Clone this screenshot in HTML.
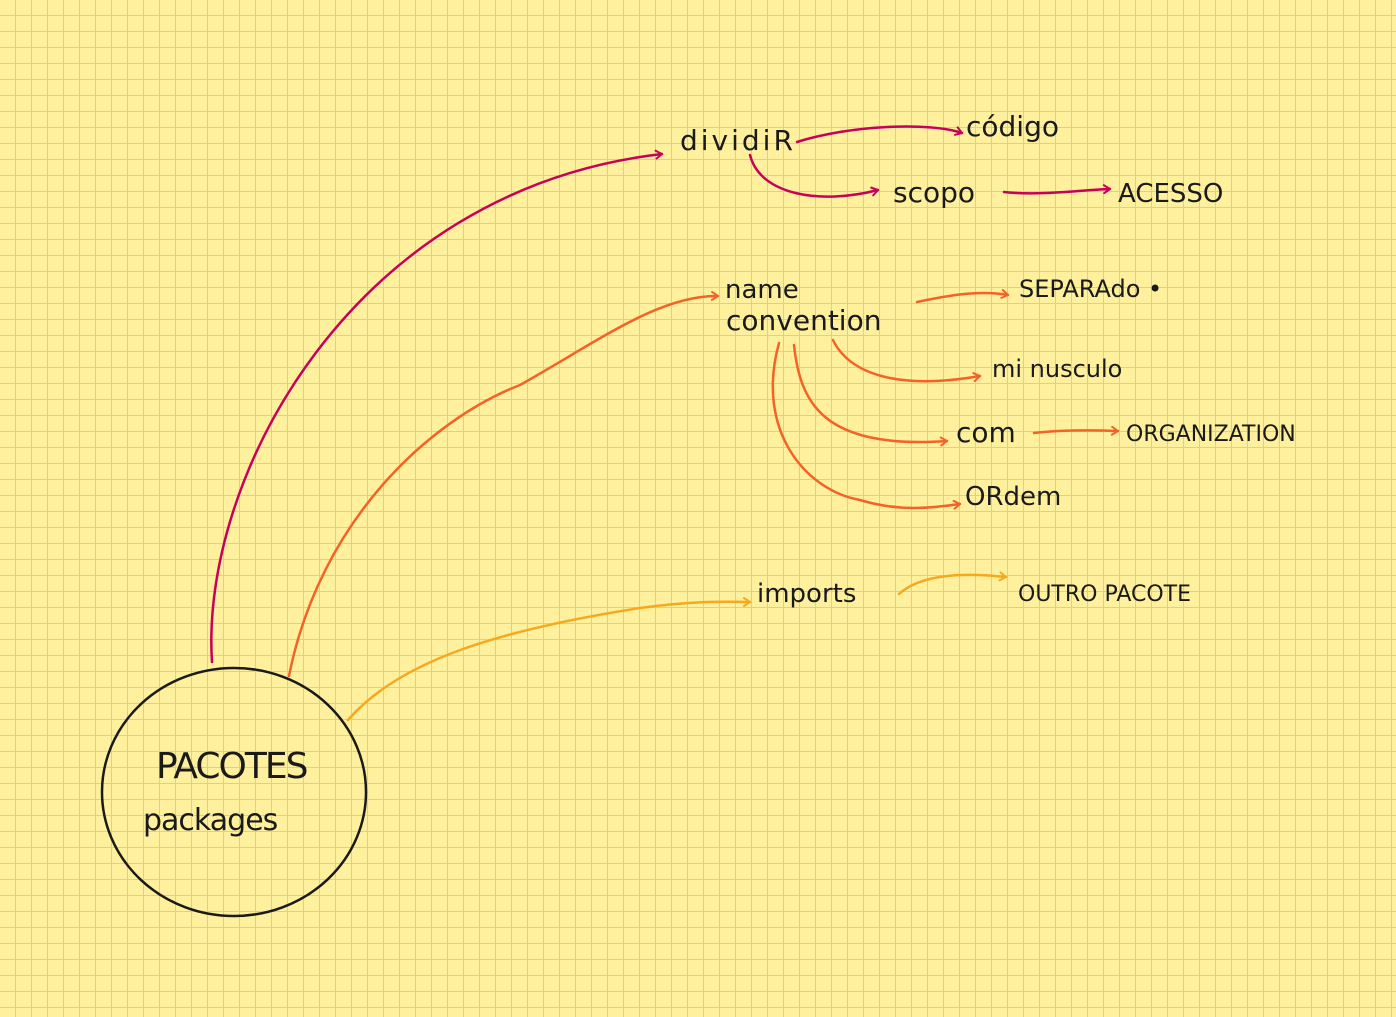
<!DOCTYPE html>
<html><head><meta charset="utf-8"><style>
html,body{margin:0;padding:0}
body{width:1396px;height:1017px;overflow:hidden;background-color:#fff09e;
background-image:linear-gradient(to right,transparent 15px,#e0cf8a 15px,#e0cf8a 17px,transparent 17px),linear-gradient(to bottom,transparent 15px,#e0cf8a 15px,#e0cf8a 17px,transparent 17px);
background-size:16px 16px;}
svg{position:absolute;left:0;top:0}
text{font-family:"DejaVu Sans","Liberation Sans",sans-serif;fill:#1a1a1a}
</style></head><body>
<svg width="1396" height="1017" viewBox="0 0 1396 1017" fill="none" stroke-linecap="round" stroke-linejoin="round">
<defs>
<marker id="m1" markerWidth="10" markerHeight="10" refX="8" refY="5" orient="auto" markerUnits="userSpaceOnUse"><path d="M2,1 L8,5 L2,9" stroke="#c8005a" stroke-width="2" fill="none"/></marker>
<marker id="m2" markerWidth="10" markerHeight="10" refX="8" refY="5" orient="auto" markerUnits="userSpaceOnUse"><path d="M2,1 L8,5 L2,9" stroke="#f4622a" stroke-width="2" fill="none"/></marker>
<marker id="m3" markerWidth="10" markerHeight="10" refX="8" refY="5" orient="auto" markerUnits="userSpaceOnUse"><path d="M2,1 L8,5 L2,9" stroke="#f5a91f" stroke-width="2" fill="none"/></marker>
</defs>
<ellipse cx="234" cy="792" rx="132" ry="124" stroke="#1a1a1a" stroke-width="2.5"/>
<g stroke="#c8005a" stroke-width="2.5">
<path d="M212,662 C200,480 350,190 662,154" marker-end="url(#m1)"/>
<path d="M797,142 C850,125 930,122 962,133" marker-end="url(#m1)"/>
<path d="M750,155 C760,195 820,205 878,190" marker-end="url(#m1)"/>
<path d="M1004,192 C1040,196 1080,190 1110,189" marker-end="url(#m1)"/>
</g>
<g stroke="#f4622a" stroke-width="2.5">
<path d="M289,676 C320,520 430,420 520,385 C600,340 660,295 718,296" marker-end="url(#m2)"/>
<path d="M917,302 C950,295 980,290 1008,295" marker-end="url(#m2)"/>
<path d="M833,340 C850,375 900,390 980,376" marker-end="url(#m2)"/>
<path d="M794,345 C800,400 820,450 947,441" marker-end="url(#m2)"/>
<path d="M779,343 C755,430 805,490 860,500 C900,512 930,508 960,504" marker-end="url(#m2)"/>
<path d="M1034,433 C1060,430 1090,430 1118,431" marker-end="url(#m2)"/>
</g>
<g stroke="#f5a91f" stroke-width="2.5">
<path d="M348,720 C400,660 500,630 640,608 C700,600 730,602 750,602" marker-end="url(#m3)"/>
<path d="M899,594 C920,575 960,572 1006,577" marker-end="url(#m3)"/>
</g>
<text x="680" y="150" font-size="28" letter-spacing="3">dividiR</text>
<text x="966" y="136" font-size="28">código</text>
<text x="893" y="202" font-size="28">scopo</text>
<text x="1118" y="202" font-size="26">ACESSO</text>
<text x="725" y="298" font-size="26">name</text>
<text x="726" y="330" font-size="28">convention</text>
<text x="1019" y="297" font-size="24">SEPARAdo •</text>
<text x="992" y="377" font-size="24">mi nusculo</text>
<text x="956" y="442" font-size="28">com</text>
<text x="1126" y="441" font-size="22">ORGANIZATION</text>
<text x="965" y="505" font-size="26">ORdem</text>
<text x="757" y="602" font-size="26">imports</text>
<text x="1018" y="601" font-size="22">OUTRO PACOTE</text>
<text x="156" y="778" font-size="36" letter-spacing="-2">PACOTES</text>
<text x="143" y="830" font-size="30" letter-spacing="-1">packages</text>
</svg>
</body></html>
